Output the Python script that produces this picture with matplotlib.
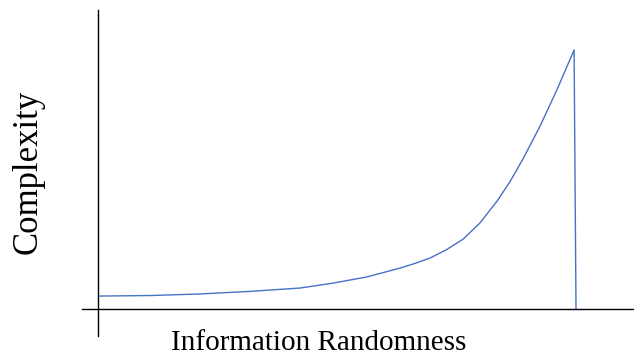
import numpy as np
import matplotlib
matplotlib.use("Agg")
import matplotlib.pyplot as plt

# values (randomness 0..1, complexity 0..1)
randomness = [0.004, 0.109, 0.213, 0.318, 0.423, 0.492, 0.563, 0.632, 0.663,
              0.695, 0.730, 0.764, 0.799, 0.835, 0.862, 0.889, 0.925, 0.960,
              0.996, 1.000]
complexity = [0.050, 0.052, 0.058, 0.068, 0.081, 0.100, 0.124, 0.158, 0.176,
              0.197, 0.230, 0.270, 0.332, 0.417, 0.492, 0.579, 0.707, 0.846,
              1.000, 0.000]

x_label = "Information Randomness"
y_label = "Complexity"

plt.rcParams['font.family'] = ['Liberation Serif', 'DejaVu Serif']

fig = plt.figure(figsize=(6.34, 3.58), dpi=100)
ax = fig.add_axes([0, 0, 1, 1])

ax.plot(randomness, complexity, color='#4472C4', lw=1.0)

# axis scale so the origin sits where the reference has it
ax.set_xlim(-98 / 478, (634 - 98) / 478)
ax.set_ylim(-49 / 259, 309 / 259)

for s in ['top', 'right']:
    ax.spines[s].set_visible(False)
ax.spines['left'].set_position(('data', 0))
ax.spines['bottom'].set_position(('data', 0))
ax.spines['left'].set_bounds(-27 / 259, 299 / 259)
ax.spines['bottom'].set_bounds(-16 / 478, 535 / 478)
ax.spines['left'].set_linewidth(1.0)
ax.spines['bottom'].set_linewidth(1.0)
ax.set_xticks([])
ax.set_yticks([])
ax.patch.set_visible(False)

fig.text(319 / 634, 1 - 343 / 358, x_label, ha='center', va='center', fontsize=21)
fig.text(28 / 634, 1 - 172 / 358, y_label, ha='center', va='center', fontsize=25,
         rotation=90)

fig.savefig("out.png", dpi=100)
